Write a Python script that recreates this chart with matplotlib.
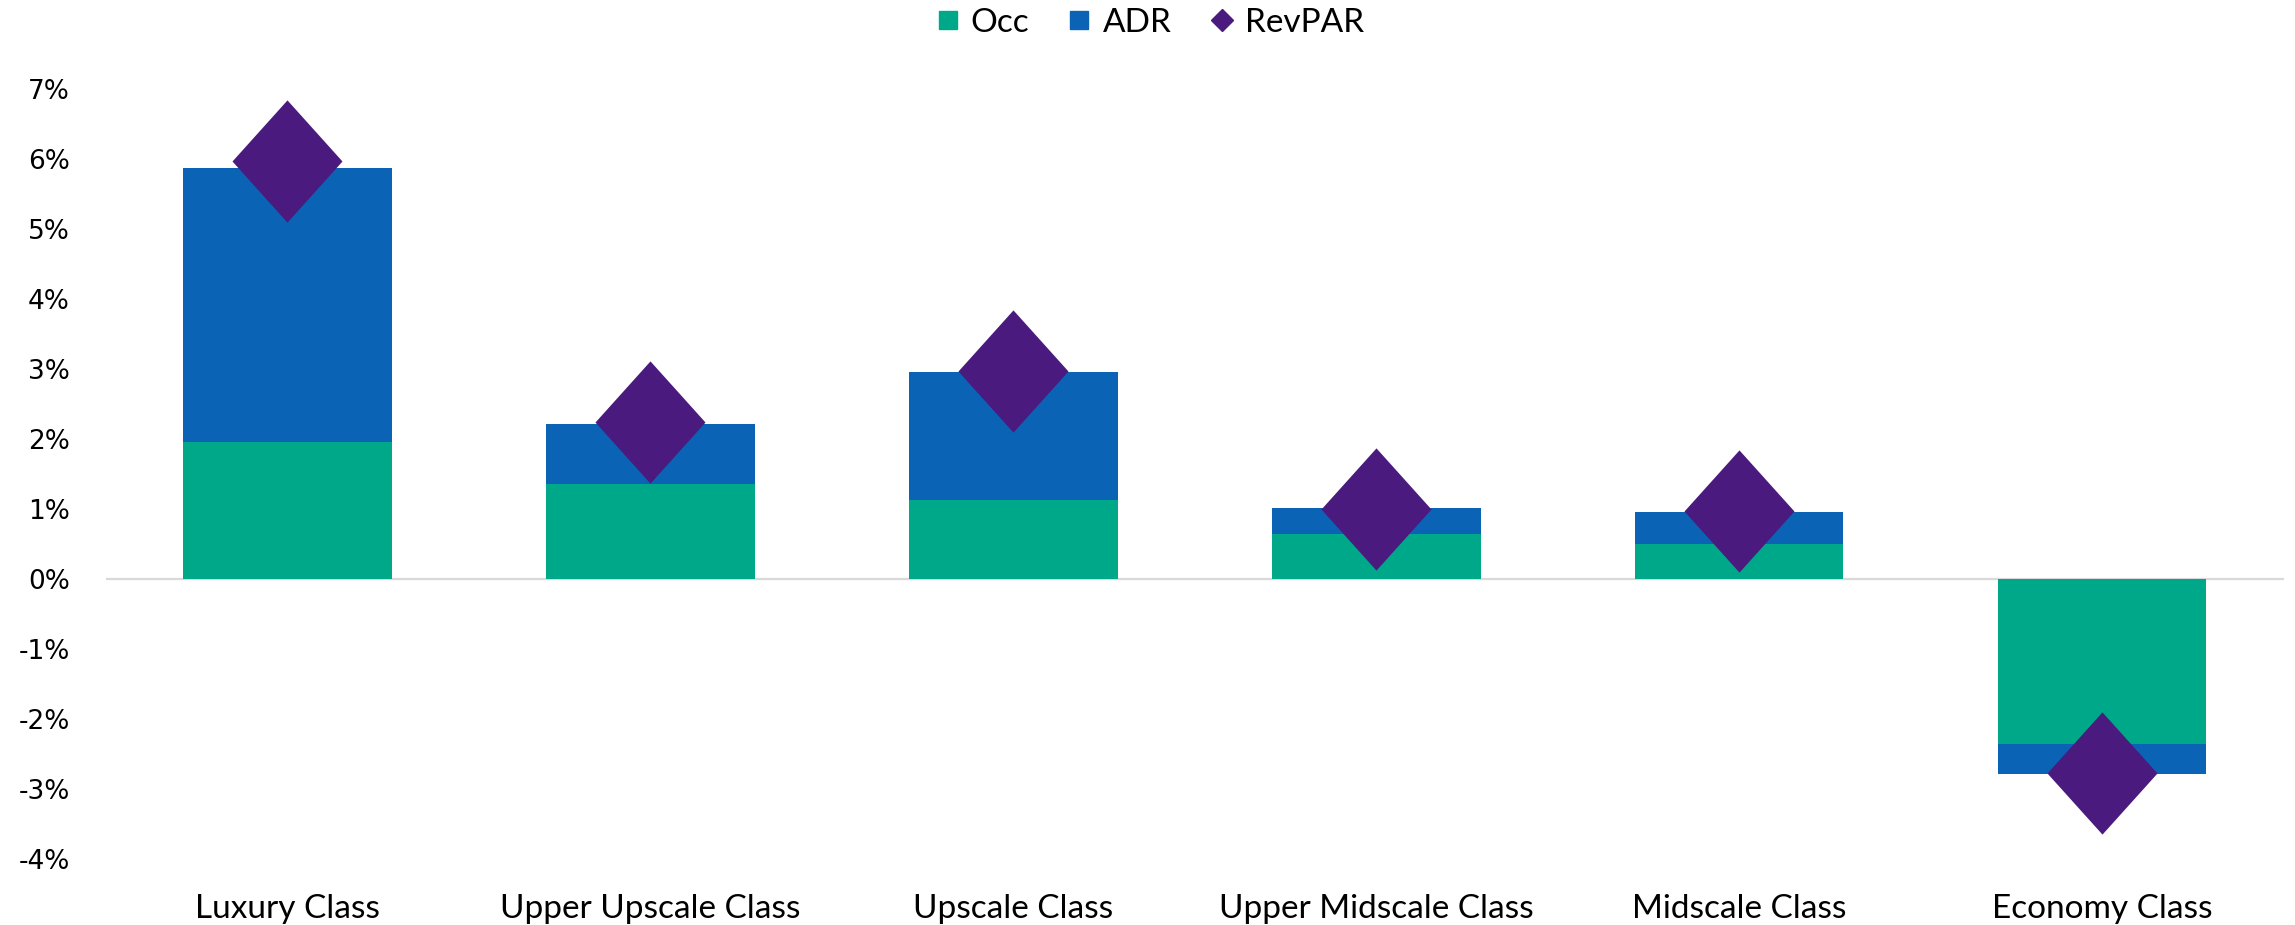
import matplotlib.pyplot as plt
from matplotlib.lines import Line2D
from matplotlib.ticker import FuncFormatter
import numpy as np

categories = ["Luxury Class", "Upper Upscale Class", "Upscale Class",
              "Upper Midscale Class", "Midscale Class", "Economy Class"]
occ = [1.96, 1.36, 1.13, 0.64, 0.50, -2.36]
adr = [3.91, 0.86, 1.82, 0.37, 0.45, -0.43]
revpar = [5.97, 2.24, 2.97, 1.00, 0.97, -2.77]

teal = "#00A88A"
blue = "#0A63B4"
purple = "#4A1A7E"

fig = plt.figure(figsize=(22.95, 9.25), dpi=100)
ax = fig.add_axes([0.0462, 0.0714, 0.9488, 0.8324])

x = np.arange(len(categories))
ax.bar(x, occ, width=0.575, color=teal, zorder=2)
ax.bar(x, adr, width=0.575, bottom=occ, color=blue, zorder=2)

diamond = [(0, 1), (0.9, 0), (0, -1), (-0.9, 0), (0, 1)]
ax.plot(x, revpar, linestyle="none", marker=diamond, markersize=88,
        color=purple, markeredgewidth=0, zorder=3)

ax.axhline(0, color="#D9D9D9", linewidth=1.6, zorder=1)

ax.set_xlim(-0.5, len(categories) - 0.5)
ax.set_ylim(-4, 7)
ax.set_yticks(range(-4, 8))
ax.yaxis.set_major_formatter(FuncFormatter(lambda v, p: f"{v:.0f}%"))
ax.set_xticks(x)
ax.set_xticklabels(categories, family="Lato", fontsize=24)
ax.tick_params(axis="x", length=0, pad=25)
ax.tick_params(axis="y", length=0, pad=26, labelsize=19)
for s in ax.spines.values():
    s.set_visible(False)

handles = [
    Line2D([], [], linestyle="none", marker="s", markersize=13, color=teal),
    Line2D([], [], linestyle="none", marker="s", markersize=13, color=blue),
    Line2D([], [], linestyle="none", marker="D", markersize=11, color=purple),
]
fig.legend(handles, ["Occ", "ADR", "RevPAR"], loc="center", bbox_to_anchor=(0.5, 0.975),
           ncol=3, frameon=False, prop={"family": "Lato", "size": 24},
           handletextpad=0.2, columnspacing=1.0, handlelength=1.0)

fig.savefig("out.png", dpi=100)
